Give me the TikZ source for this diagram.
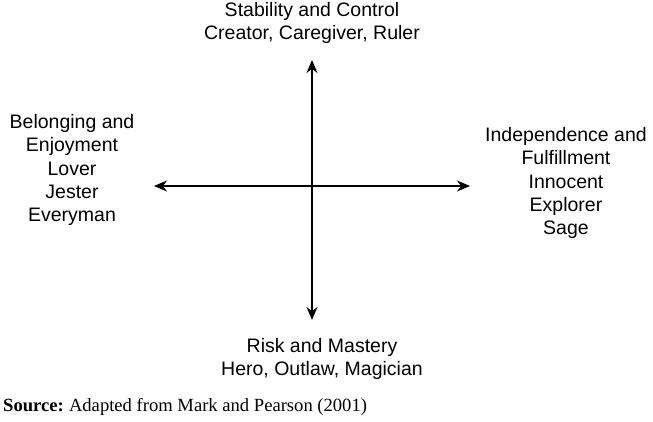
\documentclass[tikz,border=0pt]{standalone}
\usepackage{fontspec}
\setmainfont{Liberation Sans}
\newfontfamily\serif{Liberation Serif}
\usetikzlibrary{arrows.meta}
\begin{document}
\begin{tikzpicture}[x=1pt,y=-1pt,
  lbl/.style={align=center,font=\fontsize{19.5}{23.3}\selectfont,inner sep=0pt},
  axis/.style={line width=2.4pt,{Stealth[length=13pt,width=11pt]}-{Stealth[length=13pt,width=11pt]}}]
\useasboundingbox (0,0) rectangle (653,421);
\coordinate (c) at (312,186);
\coordinate (l) at (154,186);
\coordinate (r) at (470,186);
\coordinate (t) at (312,60);
\coordinate (b) at (312,320);
\draw[axis] (l) -- (r);
\draw[axis] (t) -- (b);
\node[lbl] (top) at (312,23) {Stability and Control\\Creator, Caregiver, Ruler};
\node[lbl] (left) at (72,170) {Belonging and\\Enjoyment\\Lover\\Jester\\Everyman};
\node[lbl] (right) at (566,183) {Independence and\\Fulfillment\\Innocent\\Explorer\\Sage};
\node[lbl] (bottom) at (322,359) {Risk and Mastery\\Hero, Outlaw, Magician};
\node[anchor=west,inner sep=0pt,font=\serif\fontsize{18.6}{22}\selectfont] (src) at (3,407) {\textbf{Source:}\kern-1pt{} Adapted from Mark and Pearson (2001)};
\end{tikzpicture}
\end{document}
